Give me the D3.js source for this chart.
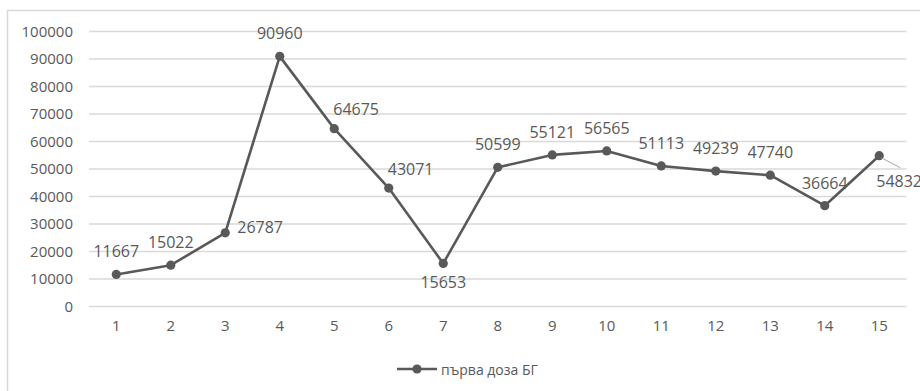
<!DOCTYPE html>
<html>
<head>
<meta charset="utf-8">
<script src="https://cdn.jsdelivr.net/npm/d3@7"></script>
<style>
  body { margin: 0; background: #fff; }
  text { font-family: "Open Sans", sans-serif; fill: #595959; }
</style>
</head>
<body>
<div id="chart"></div>
<script>
var days = [1, 2, 3, 4, 5, 6, 7, 8, 9, 10, 11, 12, 13, 14, 15];
var firstDose = [11667, 15022, 26787, 90960, 64675, 43071, 15653, 50599, 55121, 56565, 51113, 49239, 47740, 36664, 54832];
// where each data label sits, as Excel placed them
var labelPlace = ["above", "above", "right", "above", "aboveRight", "aboveRight", "below", "above", "above", "above", "above", "above", "above", "above", "belowRight"];
var yTicks = [0, 10000, 20000, 30000, 40000, 50000, 60000, 70000, 80000, 90000, 100000];
var seriesName = "първа доза БГ";

(function(){
  var width = 920, height = 391;
  var ink = "#595959", grid = "#d9d9d9";

  var svg = d3.select("#chart").append("svg")
    .attr("width", width).attr("height", height);

  // chart area border (only top/left visible in the window)
  svg.append("rect")
    .attr("x", 7.5).attr("y", 10.5)
    .attr("width", 940).attr("height", 400)
    .attr("fill", "none").attr("stroke", grid).attr("stroke-width", 1.5);

  var x = d3.scaleBand().domain(days).range([89, 906.5]);
  var y = d3.scaleLinear().domain([0, 100000]).range([306.5, 31.5]);
  var cx = function(d){ return x(d) + x.bandwidth() / 2; };

  // gridlines
  svg.append("g").selectAll("line")
    .data(yTicks).enter().append("line")
    .attr("x1", 89).attr("x2", 906.5)
    .attr("y1", function(d){ return y(d); })
    .attr("y2", function(d){ return y(d); })
    .attr("stroke", grid).attr("stroke-width", 1.5);

  // y axis labels
  var yAxis = svg.append("g")
    .attr("transform", "translate(89,0)")
    .call(d3.axisLeft(y).tickValues(yTicks).tickSize(0).tickPadding(16).tickFormat(d3.format("d")));
  yAxis.select(".domain").remove();
  yAxis.selectAll("text").style("font-size", "15px").attr("fill", ink);

  // x axis labels
  var xAxis = svg.append("g")
    .attr("transform", "translate(0,306.5)")
    .call(d3.axisBottom(x).tickSize(0).tickPadding(14));
  xAxis.select(".domain").remove();
  xAxis.selectAll("text").style("font-size", "15px").attr("fill", ink);

  var pts = days.map(function(d, i){ return { day: d, v: firstDose[i], place: labelPlace[i] }; });

  svg.append("path")
    .datum(pts)
    .attr("fill", "none")
    .attr("stroke", ink)
    .attr("stroke-width", 2.6)
    .attr("stroke-linejoin", "round")
    .attr("d", d3.line().x(function(d){ return cx(d.day); }).y(function(d){ return y(d.v); }));

  svg.append("g").selectAll("circle")
    .data(pts).enter().append("circle")
    .attr("cx", function(d){ return cx(d.day); })
    .attr("cy", function(d){ return y(d.v); })
    .attr("r", 4.6)
    .attr("fill", ink);

  // leader line for the last label
  pts.filter(function(d){ return d.place === "belowRight"; }).forEach(function(d){
    svg.append("line")
      .attr("x1", cx(d.day) + 2).attr("y1", y(d.v) + 2)
      .attr("x2", cx(d.day) + 21).attr("y2", y(d.v) + 12)
      .attr("stroke", "#a6a6a6").attr("stroke-width", 1);
  });

  svg.append("g").selectAll("text")
    .data(pts).enter().append("text")
    .style("font-size", "16px")
    .attr("fill", ink)
    .attr("dominant-baseline", "central")
    .attr("text-anchor", function(d){
      return d.place === "above" || d.place === "below" ? "middle" : "start";
    })
    .attr("x", function(d){
      var px = cx(d.day);
      if (d.place === "right") return px + 12;
      if (d.place === "aboveRight") return px - 1;
      if (d.place === "belowRight") return px - 3;
      return px;
    })
    .attr("y", function(d){
      var py = y(d.v);
      if (d.place === "above") return py - 23;
      if (d.place === "aboveRight") return py - 19.5;
      if (d.place === "right") return py - 6;
      if (d.place === "below") return py + 18.5;
      if (d.place === "belowRight") return py + 25;
      return py;
    })
    .text(function(d){ return d.v; });

  // legend
  var lg = svg.append("g").attr("transform", "translate(0,369)");
  lg.append("line").attr("x1", 397).attr("x2", 437).attr("stroke", ink).attr("stroke-width", 2.6);
  lg.append("circle").attr("cx", 417).attr("r", 4.6).attr("fill", ink);
  lg.append("text").attr("x", 441).attr("dominant-baseline", "central")
    .style("font-size", "14px").attr("fill", ink).text(seriesName);
})();
</script>
</body>
</html>
